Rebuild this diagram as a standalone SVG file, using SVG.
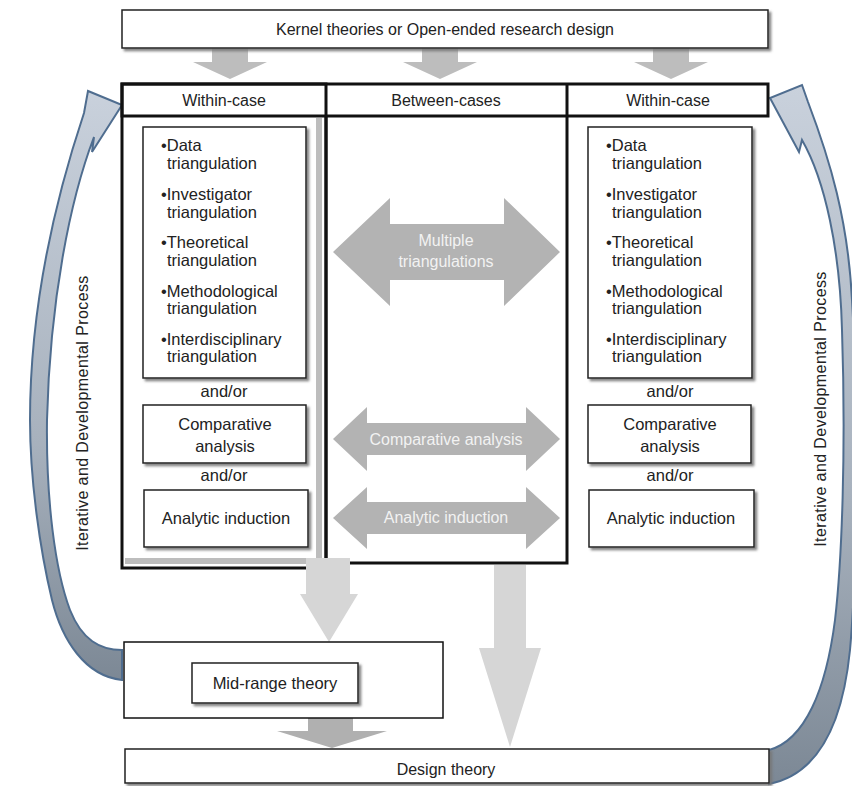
<svg xmlns="http://www.w3.org/2000/svg" width="852" height="786" viewBox="0 0 852 786">
<defs>
<style>
text{font-family:"Liberation Sans",Arial,sans-serif;fill:#222;font-size:16px}
.c{text-anchor:middle}
.l{font-size:16.5px}
.box{fill:#fff;stroke:#222;stroke-width:1.5}
.thick{fill:none;stroke:#111;stroke-width:3}
.ga{fill:#bdbdbd}
.gm{fill:#b3b3b3}
.gd{fill:#d6d6d6}
.wt{fill:#f2f2f2;text-anchor:middle}
.curve{stroke:#4f6d8f;stroke-width:2;stroke-linejoin:miter}
.vt{font-size:16px;letter-spacing:0.4px;text-anchor:middle}
</style>
<filter id="sh" x="-5%" y="-5%" width="115%" height="130%">
<feDropShadow dx="2.5" dy="2.5" stdDeviation="0.8" flood-color="#777" flood-opacity="0.9"/>
</filter>
<linearGradient id="cg" x1="0" y1="0" x2="0" y2="1">
<stop offset="0" stop-color="#c9d1dc"/>
<stop offset="0.6" stop-color="#a7b1bd"/>
<stop offset="1" stop-color="#7c8895"/>
</linearGradient>
</defs>
<rect width="852" height="786" fill="#fff"/>

<g id="connectors">
<polygon class="ga" points="212,48 248,48 248,62 267,62 230,79 193,62 212,62"/>
<polygon class="ga" points="422,48 458,48 458,62 477,62 440,79 403,62 422,62"/>
<polygon class="ga" points="653,48 689,48 689,62 708,62 671,79 634,62 653,62"/>
<polygon class="gd" points="494,565 526,565 526,648 541,648 510,747 479,648 494,648"/>
<polygon class="ga" style="fill:#b0b0b0" points="308,718 353,718 353,731 387,731 332,748 277,731 308,731"/>
<path id="loop-left" class="curve" fill="url(#cg)" d="M122,680 C85,676 62,640 52,600 C40,550 30,480 30,420 C30,330 45,230 84,113 L88,91 L122,105 L92,152 L94,137 C70,200 50,300 47,420 C46,500 55,570 70,610 C82,640 100,650 122,650 Z"/>
<path id="loop-right" class="curve" fill="url(#cg)" d="M769,784 C815,775 842,730 850,650 C858,560 858,400 852,300 C848,220 830,160 808,102 L802,85 L770,98 L799,152 L802,140 C825,180 840,250 842,330 C846,450 842,560 835,620 C826,690 805,740 769,750 Z"/>
<text class="vt" transform="translate(88,413) rotate(-90)">Iterative and Developmental Process</text>
<text class="vt" transform="translate(826,409) rotate(-90)">Iterative and Developmental Process</text>
</g>

<g id="kernel">
<rect class="box" x="122" y="10" width="646" height="38" filter="url(#sh)"/>
<text class="c" x="445" y="35">Kernel theories or Open-ended research design</text>
</g>

<g id="columns">
<rect x="122" y="84" width="646" height="32" fill="#fff"/>
<rect x="122" y="116" width="204" height="452" fill="#fff"/>
<rect x="316" y="118" width="6" height="446" fill="#bdbdbd"/>
<rect x="125" y="558" width="197" height="6" fill="#bdbdbd"/>
<path d="M326,116 V563 H567 V116" fill="none" stroke="#111" stroke-width="3"/>
<rect class="thick" x="122" y="84" width="204" height="484"/>
<rect class="thick" x="122" y="84" width="646" height="32"/>
<line x1="567" y1="84" x2="567" y2="116" stroke="#111" stroke-width="3"/>
<text class="c" x="224" y="106">Within-case</text>
<text class="c" x="446" y="106">Between-cases</text>
<text class="c" x="668" y="106">Within-case</text>
</g>

<g id="left-list">
<rect class="box" x="143" y="127" width="163" height="251" filter="url(#sh)"/>
<text class="l" x="161" y="151">•Data</text>
<text class="l" x="167" y="169">triangulation</text>
<text class="l" x="161" y="200">•Investigator</text>
<text class="l" x="167" y="218">triangulation</text>
<text class="l" x="161" y="248">•Theoretical</text>
<text class="l" x="167" y="266">triangulation</text>
<text class="l" x="161" y="297">•Methodological</text>
<text class="l" x="167" y="314">triangulation</text>
<text class="l" x="161" y="345">•Interdisciplinary</text>
<text class="l" x="167" y="362">triangulation</text>
<text class="c l" x="224" y="397">and/or</text>
</g>
<g id="left-comparative">
<rect class="box" x="143" y="405" width="163" height="58" filter="url(#sh)"/>
<text class="c l" x="225" y="430">Comparative</text>
<text class="c l" x="225" y="452">analysis</text>
<text class="c l" x="224" y="481">and/or</text>
</g>
<g id="left-analytic">
<rect class="box" x="144" y="490" width="164" height="57" filter="url(#sh)"/>
<text class="c l" x="226" y="524">Analytic induction</text>
</g>

<g id="right-list">
<rect class="box" x="588" y="127" width="164" height="251" filter="url(#sh)"/>
<text class="l" x="606" y="151">•Data</text>
<text class="l" x="612" y="169">triangulation</text>
<text class="l" x="606" y="200">•Investigator</text>
<text class="l" x="612" y="218">triangulation</text>
<text class="l" x="606" y="248">•Theoretical</text>
<text class="l" x="612" y="266">triangulation</text>
<text class="l" x="606" y="297">•Methodological</text>
<text class="l" x="612" y="314">triangulation</text>
<text class="l" x="606" y="345">•Interdisciplinary</text>
<text class="l" x="612" y="362">triangulation</text>
<text class="c l" x="670" y="397">and/or</text>
</g>
<g id="right-comparative">
<rect class="box" x="588" y="405" width="163" height="58" filter="url(#sh)"/>
<text class="c l" x="670" y="430">Comparative</text>
<text class="c l" x="670" y="452">analysis</text>
<text class="c l" x="670" y="481">and/or</text>
</g>
<g id="right-analytic">
<rect class="box" x="589" y="490" width="165" height="57" filter="url(#sh)"/>
<text class="c l" x="671" y="524">Analytic induction</text>
</g>

<g id="between-arrows">
<polygon class="gm" points="333,252 390,198 390,224 504,224 504,198 560,252 504,306 504,280 390,280 390,306"/>
<text class="wt" x="446" y="246">Multiple</text>
<text class="wt" x="446" y="267">triangulations</text>
<polygon class="gm" points="333,439 367,407 367,423 526,423 526,407 560,439 526,471 526,455 367,455 367,471"/>
<text class="wt" x="446" y="445">Comparative analysis</text>
<polygon class="gm" points="333,518 367,487 367,502 526,502 526,487 560,518 526,549 526,534 367,534 367,549"/>
<text class="wt" x="446" y="523">Analytic induction</text>
</g>

<g id="down-left">
<polygon class="gd" points="306,558 350,558 350,594 358,594 329,642 300,594 306,594"/>
</g>

<g id="midrange">
<rect x="124" y="642" width="319" height="76" fill="#fff" stroke="#111" stroke-width="1.5"/>
<rect class="box" x="192" y="663" width="166" height="40" filter="url(#sh)"/>
<text class="c l" x="275" y="689">Mid-range theory</text>
</g>

<g id="design">
<rect class="box" x="125" y="749" width="644" height="34" filter="url(#sh)"/>
<text class="c" x="446" y="775">Design theory</text>
</g>
</svg>
